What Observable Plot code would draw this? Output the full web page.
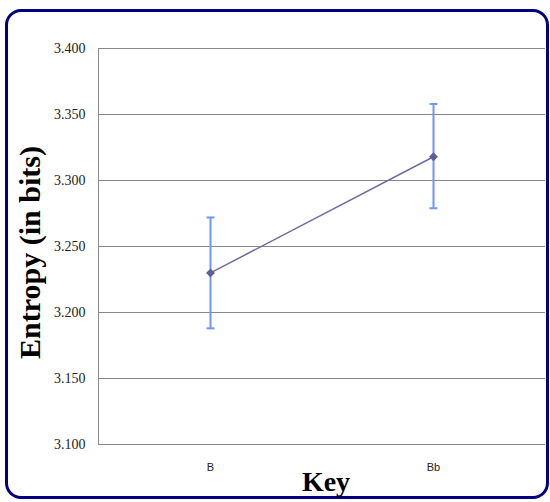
<!DOCTYPE html>
<html>
<head>
<meta charset="utf-8">
<script src="https://cdn.jsdelivr.net/npm/d3@7"></script>
<script src="https://cdn.jsdelivr.net/npm/@observablehq/plot@0.6"></script>
<style>
  html, body { margin: 0; padding: 0; background: #fff; }
  #wrap { position: relative; width: 550px; height: 502px; overflow: hidden; }
  #border { position: absolute; left: 5px; top: 9px; width: 544px; height: 490px; box-sizing: border-box;
            border: 3px solid #000080; border-radius: 16px; }
  #chart { position: absolute; left: 0; top: 0; }
</style>
</head>
<body>
<div id="wrap"><div id="border"></div><div id="chart"></div></div>
<script>
const keys = ["B", "Bb"];
const entropy = [3.230, 3.318];
const errLow = [3.188, 3.279];
const errHigh = [3.272, 3.358];
const yTicks = [3.10, 3.15, 3.20, 3.25, 3.30, 3.35, 3.40];
const xTitle = "Key";
const yTitle = "Entropy (in bits)";

const data = keys.map((k, i) => ({key: k, value: entropy[i], lo: errLow[i], hi: errHigh[i]}));

const capSymbol = {
  draw(context, size) {
    const r = Math.sqrt(size) / 2;
    context.moveTo(-r, 0);
    context.lineTo(r, 0);
  }
};

const chart = Plot.plot({
  width: 550,
  height: 502,
  marginLeft: 98,
  marginRight: 5,
  marginTop: 48,
  marginBottom: 58,
  style: {background: "transparent", overflow: "visible"},
  x: {type: "point", domain: keys, padding: 0.5},
  y: {domain: [3.1, 3.4]},
  marks: [
    Plot.gridY(yTicks, {stroke: "#888", strokeOpacity: 1, strokeWidth: 1}),
    Plot.frame({anchor: "left", stroke: "#888", strokeWidth: 1}),
    Plot.axisY({ticks: yTicks, tickFormat: d3.format(".3f"), tickSize: 0, tickPadding: 13,
                fontSize: 14, fontFamily: "Liberation Serif", fill: "#222", label: null}),
    Plot.axisX({tickSize: 0, tickPadding: 19, fontSize: 11, fontFamily: "Liberation Sans", fill: "#222", label: null}),
    Plot.ruleX(data, {x: "key", y1: "lo", y2: "hi", stroke: "#6f94ff", strokeWidth: 2}),
    Plot.dot(data, {x: "key", y: "lo", symbol: capSymbol, r: 4.5, stroke: "#6f94ff", strokeWidth: 2, fill: "none"}),
    Plot.dot(data, {x: "key", y: "hi", symbol: capSymbol, r: 4.5, stroke: "#6f94ff", strokeWidth: 2, fill: "none"}),
    Plot.line(data, {x: "key", y: "value", stroke: "#6b6ba3", strokeWidth: 1.5}),
    Plot.dot(data, {x: "key", y: "value", symbol: "diamond2", r: 4, fill: "#5e5e94", stroke: "none"}),
    Plot.text([xTitle], {frameAnchor: "bottom", dy: 46, dx: 4, fontSize: 28, fontWeight: "bold",
                         fontFamily: "Liberation Serif", fill: "#000"}),
    Plot.text([yTitle], {frameAnchor: "left", textAnchor: "middle", rotate: -90, dx: -68, dy: 6, fontSize: 30,
                         fontWeight: "bold", fontFamily: "Liberation Serif", fill: "#000"})
  ]
});
document.getElementById("chart").appendChild(chart);
</script>
</body>
</html>
